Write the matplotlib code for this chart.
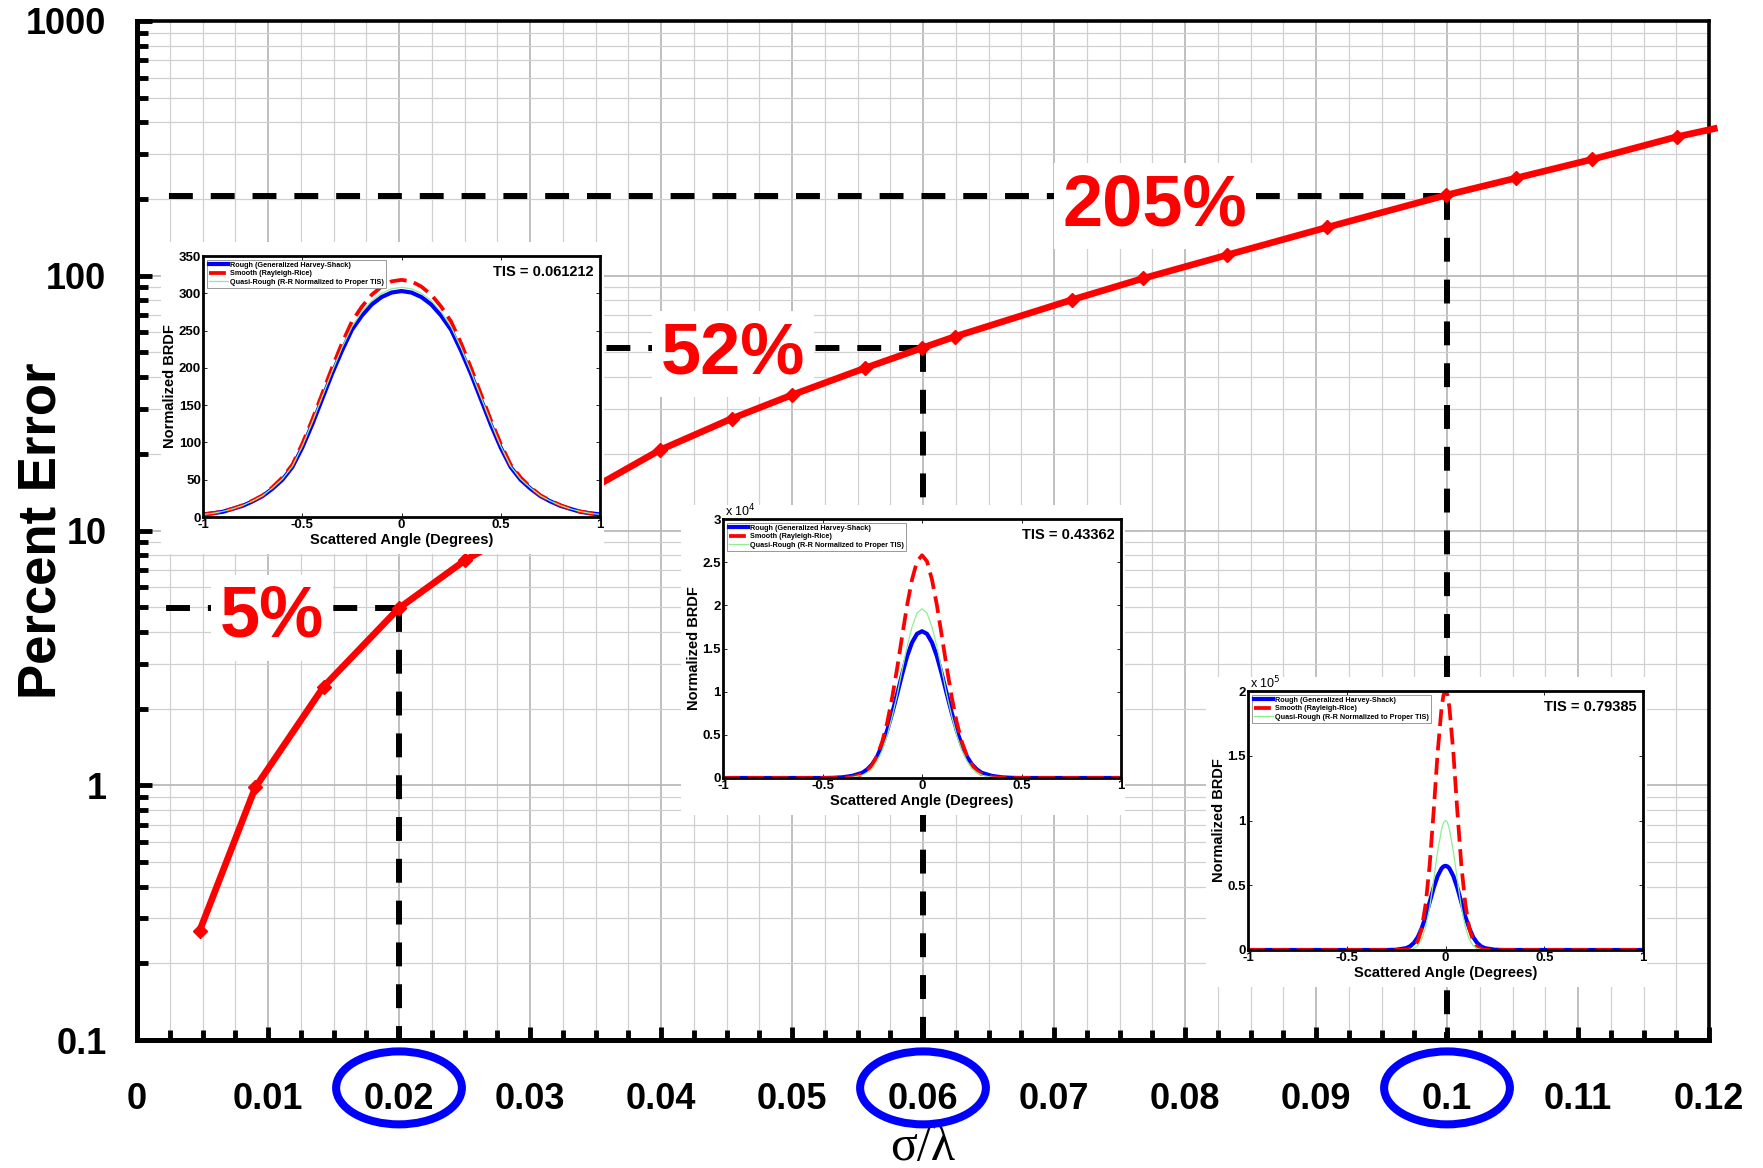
import numpy as np
import matplotlib.pyplot as plt
import matplotlib.transforms as mtransforms
from matplotlib.patches import Ellipse, Rectangle
from matplotlib.ticker import FixedLocator, LogLocator, NullFormatter

plt.rcParams['font.family'] = ['Liberation Sans', 'DejaVu Sans']

# main curve: percent error vs sigma/lambda
sigma_lambda = [0.00479, 0.00903, 0.01425, 0.01998, 0.02506, 0.03992, 0.04540,
                0.04997, 0.05557, 0.0599, 0.06244, 0.07135, 0.07682, 0.08318,
                0.09086, 0.0999, 0.10524, 0.11104, 0.11753]
percent_error = [0.269, 0.98, 2.44, 4.95, 7.65, 20.7, 27.5, 34.0, 43.4, 52.0,
                 57.7, 80.4, 97.7, 120.5, 155, 207, 241.6, 286, 351]
# the line runs on a little past the last marker
line_end = (0.1204, 378)

# dashed read-off lines and their labels
guide_x = [0.02, 0.06, 0.10]
guide_y = [4.95, 52, 205]
guide_text = ['5%', '52%', '205%']
label_x = [0.0103, 0.0455, 0.0777]
label_y = [3.82, 41.5, 158]
guide_start = 0.0022

xticks = [0, 0.01, 0.02, 0.03, 0.04, 0.05, 0.06, 0.07, 0.08, 0.09, 0.10, 0.11, 0.12]
xtick_labels = ['0', '0.01', '0.02', '0.03', '0.04', '0.05', '0.06', '0.07',
                '0.08', '0.09', '0.1', '0.11', '0.12']
yticks = [0.1, 1, 10, 100, 1000]
ytick_labels = ['0.1', '1', '10', '100', '1000']
circled = [0.02, 0.06, 0.10]

# inset BRDF profiles (half profiles, angle >= 0, mirrored when drawn)
ang1 = [0, 0.05, 0.1, 0.15, 0.2, 0.25, 0.3, 0.35, 0.4, 0.45, 0.5, 0.55, 0.6,
        0.65, 0.7, 0.75, 0.8, 0.85, 0.9, 0.95, 1.0]
rough1 = [303, 301, 295, 285, 270, 251, 223, 192, 158, 124, 93, 67, 50, 38, 28,
          21, 15, 11, 7, 5, 3.5]
smooth1 = [318, 316, 309, 298, 282, 262, 233, 200, 165, 130, 98, 70, 53, 40, 29,
           22, 16, 11, 7.5, 5, 3.5]
quasi1 = [308, 306, 300, 290, 275, 255, 227, 195, 161, 127, 95, 68, 51, 39, 28.5,
          21.5, 15.5, 11, 7.5, 5, 3.5]

ang2 = [0, 0.025, 0.05, 0.075, 0.1, 0.125, 0.15, 0.175, 0.2, 0.225, 0.25, 0.275,
        0.3, 0.35, 0.4, 0.45, 0.5, 1.0]
rough2 = [1.70, 1.67, 1.57, 1.41, 1.20, 0.97, 0.75, 0.55, 0.38, 0.25, 0.16, 0.10,
          0.06, 0.025, 0.008, 0.002, 0, 0]
smooth2 = [2.58, 2.51, 2.30, 2.00, 1.64, 1.27, 0.93, 0.64, 0.42, 0.26, 0.15, 0.084,
           0.044, 0.01, 0.002, 0, 0, 0]
quasi2 = [1.96, 1.91, 1.75, 1.52, 1.25, 0.96, 0.71, 0.49, 0.32, 0.20, 0.11, 0.064,
          0.033, 0.008, 0.002, 0, 0, 0]

ang3 = [0, 0.01, 0.02, 0.04, 0.06, 0.08, 0.1, 0.12, 0.14, 0.16, 0.18, 0.2, 0.25,
        0.3, 1.0]
rough3 = [0.65, 0.645, 0.63, 0.57, 0.48, 0.37, 0.26, 0.17, 0.10, 0.055, 0.028,
          0.014, 0.002, 0, 0]
smooth3 = [2.0, 1.97, 1.87, 1.52, 1.07, 0.66, 0.36, 0.17, 0.068, 0.024, 0.008,
           0.002, 0, 0, 0]
quasi3 = [1.0, 0.985, 0.93, 0.76, 0.54, 0.33, 0.18, 0.084, 0.034, 0.012, 0.004,
          0.001, 0, 0, 0]

W, H = 1763, 1168
fig = plt.figure(figsize=(W / 100, H / 100), dpi=100)
ax = fig.add_axes([137 / W, 1 - 1040 / H, 1572 / W, 1019 / H])

# main curve
ax.plot(sigma_lambda + [line_end[0]], percent_error + [line_end[1]], color='red',
        lw=4.8, solid_joinstyle='round', zorder=4, clip_on=False)
ax.plot(sigma_lambda, percent_error, ls='none', marker='D', ms=7, color='red',
        zorder=5)

# dashed guides, drawn outward from the corner
for gx, gy in zip(guide_x, guide_y):
    ax.plot([gx, guide_start], [gy, gy], color='black', lw=4.3, ls=(0, (4, 3)),
            zorder=3)
    ax.plot([gx, gx], [gy, 0.1], color='black', lw=4.3, ls=(0, (4, 3)), zorder=3)

# labels sit on white boxes over the guides, under the curve
for lx, ly, txt in zip(label_x, label_y, guide_text):
    ax.text(lx, ly, txt, color='red', fontsize=52, fontweight='bold', ha='center',
            va='baseline', zorder=3.5,
            bbox=dict(facecolor='white', edgecolor='none', boxstyle='square,pad=0.12'))

ax.set_yscale('log')
ax.set_xlim(0, 0.12)
ax.set_ylim(0.1, 1000)
ax.set_xticks(xticks)
ax.set_xticklabels(xtick_labels, fontsize=26, fontweight='bold')
ax.xaxis.set_minor_locator(FixedLocator(np.arange(0, 0.1201, 0.0025)))
ax.set_yticks(yticks)
ax.set_yticklabels(ytick_labels, fontsize=26, fontweight='bold')
ax.yaxis.set_minor_locator(LogLocator(base=10, subs=range(2, 10)))
ax.yaxis.set_minor_formatter(NullFormatter())

ax.tick_params(axis='both', which='both', direction='in', width=3.5, top=False,
               right=False)
ax.tick_params(axis='x', which='major', length=9.5, pad=30)
ax.tick_params(axis='x', which='minor', length=7)
ax.tick_params(axis='y', which='major', length=11, pad=22)
ax.tick_params(axis='y', which='minor', length=8)

ax.set_axisbelow(True)
ax.grid(which='major', color='#b4b4b4', lw=1.2)
ax.grid(which='minor', color='#d0d0d0', lw=0.9)

for side in ['left', 'bottom']:
    ax.spines[side].set_linewidth(3.6)
for side in ['top', 'right']:
    ax.spines[side].set_linewidth(2.6)

ax.set_ylabel('Percent Error', fontsize=38, fontweight='bold')
ax.yaxis.set_label_coords(-0.045, 0.5)
ax.set_xlabel('σ/λ', fontsize=36, fontfamily=['Liberation Serif', 'DejaVu Serif'])
ax.xaxis.set_label_coords(0.5, -0.083)

# blue circles round the highlighted tick labels
trans = mtransforms.blended_transform_factory(ax.transData, ax.transAxes)
for cx in circled:
    ax.add_patch(Ellipse((cx, -0.047), width=0.0096, height=0.0716, transform=trans,
                         fill=False, edgecolor='blue', lw=5.8, clip_on=False))


def draw_inset(rect, ang, rough, smooth, quasi, ylim, ytks, ytk_labels, tis, expo):
    l, b, w, h = rect
    fig.add_artist(Rectangle((l - 42 / W, b - 37 / H), w + 46 / W, h + 51 / H,
                             transform=fig.transFigure, facecolor='white',
                             edgecolor='none', zorder=1))
    iax = fig.add_axes(rect, zorder=2)
    ang = np.array(ang)
    x = np.concatenate([-ang[::-1], ang[1:]])
    def mirror(v):
        v = np.array(v, dtype=float)
        return np.concatenate([v[::-1], v[1:]])
    iax.plot(x, mirror(rough), color='blue', lw=3, solid_joinstyle='round',
             label='Rough (Generalized Harvey-Shack)')
    iax.plot(x, mirror(smooth), color='red', lw=2.7, ls=(0, (4.5, 2)),
             label='Smooth (Rayleigh-Rice)')
    iax.plot(x, mirror(quasi), color='#90ee90', lw=0.9,
             label='Quasi-Rough (R-R Normalized to Proper TIS)')
    iax.set_xlim(-1, 1)
    iax.set_ylim(*ylim)
    iax.set_xticks([-1, -0.5, 0, 0.5, 1])
    iax.set_xticklabels(['-1', '-0.5', '0', '0.5', '1'], fontsize=9.5,
                        fontweight='bold')
    iax.set_yticks(ytks)
    iax.set_yticklabels(ytk_labels, fontsize=9.5, fontweight='bold')
    iax.tick_params(direction='in', length=3, width=0.6, top=True, right=True, pad=1.5)
    for s in iax.spines.values():
        s.set_linewidth(2)
    iax.set_xlabel('Scattered Angle (Degrees)', fontsize=10.5, fontweight='bold',
                   labelpad=1.5)
    iax.set_ylabel('Normalized BRDF', fontsize=10.5, fontweight='bold', labelpad=1)
    iax.text(0.985, 0.965, tis, transform=iax.transAxes, ha='right', va='top',
             fontsize=10.5, fontweight='bold')
    if expo:
        iax.text(0.005, 1.0, r'x 10$^{%d}$' % expo, transform=iax.transAxes,
                 ha='left', va='bottom', fontsize=9)
    leg = iax.legend(loc='upper left', prop={'size': 5.2, 'weight': 'bold'},
                     handlelength=2.6, borderpad=0.3, labelspacing=0.2,
                     handletextpad=0.4, fancybox=False, edgecolor='#888888',
                     framealpha=1, borderaxespad=0.5)
    leg.get_frame().set_linewidth(0.6)


draw_inset([203 / W, 1 - 517 / H, 397 / W, 261 / H], ang1, rough1, smooth1, quasi1,
           (0, 350), [0, 50, 100, 150, 200, 250, 300, 350],
           ['0', '50', '100', '150', '200', '250', '300', '350'],
           'TIS = 0.061212', None)
draw_inset([723 / W, 1 - 778 / H, 398 / W, 259 / H], ang2, rough2, smooth2, quasi2,
           (0, 3), [0, 0.5, 1, 1.5, 2, 2.5, 3],
           ['0', '0.5', '1', '1.5', '2', '2.5', '3'],
           'TIS = 0.43362', 4)
draw_inset([1248 / W, 1 - 950 / H, 395 / W, 259 / H], ang3, rough3, smooth3, quasi3,
           (0, 2), [0, 0.5, 1, 1.5, 2],
           ['0', '0.5', '1', '1.5', '2'],
           'TIS = 0.79385', 5)

fig.savefig('out.png', dpi=100)
